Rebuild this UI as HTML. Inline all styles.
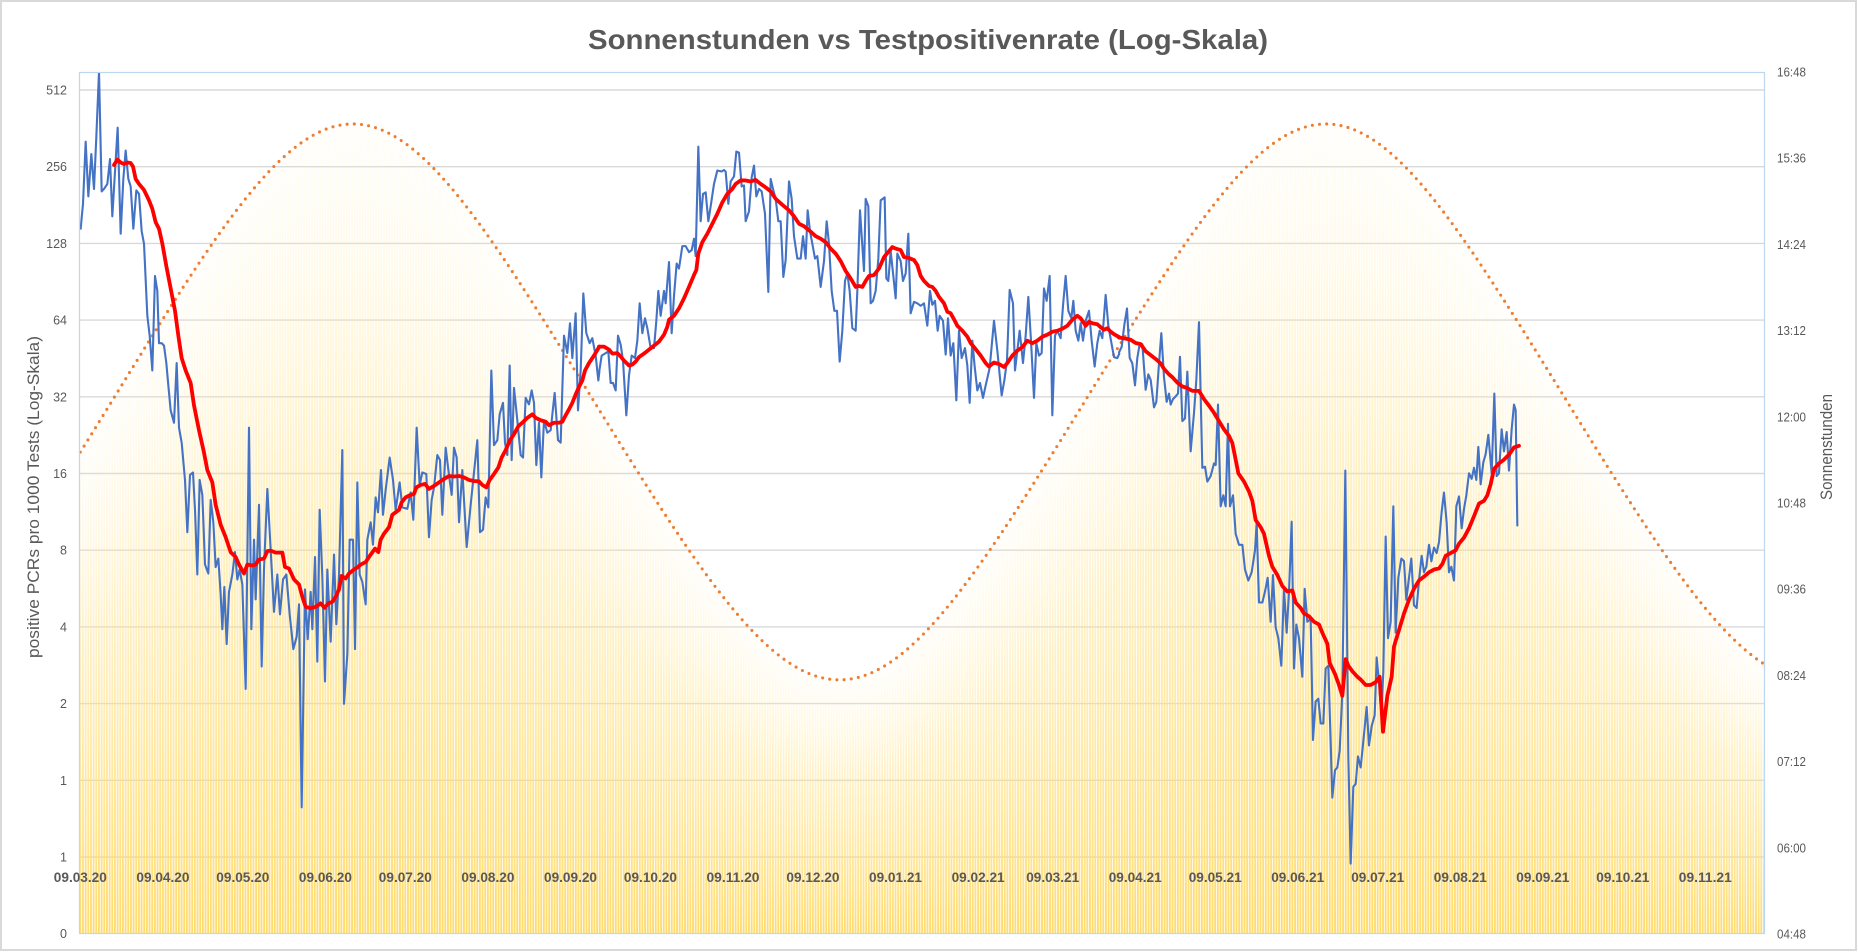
<!DOCTYPE html>
<html><head><meta charset="utf-8">
<style>
html,body{margin:0;padding:0;background:#fff;}
svg{display:block;}
text{font-family:"Liberation Sans",Arial,sans-serif;fill:#595959;}
</style></head><body>
<svg id="c" width="1858" height="952" viewBox="0 0 1858 952" xmlns="http://www.w3.org/2000/svg">
<defs>
<linearGradient id="bg" x1="0" y1="0" x2="0" y2="1">
<stop offset="0" stop-color="#FFF2CC" stop-opacity="0.12"/>
<stop offset="0.4" stop-color="#FFE699" stop-opacity="0.55"/>
<stop offset="1" stop-color="#FFD966" stop-opacity="0.95"/>
</linearGradient>
<clipPath id="pc"><rect x="79" y="72" width="1686" height="862"/></clipPath>
</defs>
<rect x="0" y="0" width="1858" height="952" fill="#fff"/>
<rect x="1" y="1" width="1855" height="949" fill="none" stroke="#D9D9D9" stroke-width="2"/>
<g stroke="#D9D9D9" stroke-width="1.4">
<line x1="79" x2="1765" y1="90" y2="90"/>
<line x1="79" x2="1765" y1="166.7" y2="166.7"/>
<line x1="79" x2="1765" y1="243.4" y2="243.4"/>
<line x1="79" x2="1765" y1="320.1" y2="320.1"/>
<line x1="79" x2="1765" y1="396.8" y2="396.8"/>
<line x1="79" x2="1765" y1="473.5" y2="473.5"/>
<line x1="79" x2="1765" y1="550.2" y2="550.2"/>
<line x1="79" x2="1765" y1="626.9" y2="626.9"/>
<line x1="79" x2="1765" y1="703.6" y2="703.6"/>
<line x1="79" x2="1765" y1="780.3" y2="780.3"/>
<line x1="79" x2="1765" y1="857" y2="857"/>
</g>
<g id="bars" clip-path="url(#pc)"></g>
<polyline id="sun" fill="none" stroke="#ED7D31" stroke-width="3.1" stroke-linecap="round" stroke-dasharray="0 7.2" points=""/>
<g clip-path="url(#pc)" fill="none" stroke-linejoin="round" stroke-linecap="round">
<g transform="translate(79,72) scale(0.33333,0.49751)">
<polyline vector-effect="non-scaling-stroke" stroke="#4472C4" stroke-width="2.1" points="5,315 12,265 20,140 28,250 37,165 45,235 52,130 60,0 68,240 75,235 85,225 93,175 100,290 108,200 116,112 125,325 133,215 140,158 148,215 155,230 163,315 172,238 180,245 188,320 195,345 205,490 212,530 220,600 228,410 235,440 240,545 248,545 255,550 262,585 268,630 275,680 285,705 293,585 300,715 308,745 318,820 325,925 333,810 342,805 348,880 355,1010 362,820 370,850 378,990 388,1008 395,860 403,905 410,995 418,978 425,1050 430,1120 436,1035 443,1150 450,1045 460,1010 468,965 475,1020 482,1000 490,1030 500,1240 510,715 517,1120 525,940 530,1060 540,870 548,1195 555,1000 565,838 575,960 585,1085 595,1010 603,1090 612,1020 622,1010 632,1090 643,1160 653,1135 660,1070 668,1478 678,1040 686,1140 695,1045 700,1120 708,975 715,1185 722,880 730,1015 738,1225 745,1000 755,1145 765,970 772,1110 780,1010 790,760 795,1270 805,1170 812,940 822,940 828,1160 835,825 842,1010 850,1025 860,1070 865,940 875,905 882,950 890,855 897,885 906,800 912,890 920,840 932,775 942,820 950,880 962,825 970,875 985,878 995,845 1003,900 1013,715 1022,830 1030,805 1042,808 1050,935 1058,860 1065,835 1075,770 1083,780 1090,890 1100,755 1110,810 1118,850 1125,755 1133,775 1140,905 1150,800 1163,955 1175,870 1185,805 1195,740 1203,925 1212,920 1220,855 1228,875 1237,600 1245,750 1255,740 1262,688 1272,665 1278,745 1285,770 1292,590 1298,780 1305,635 1315,700 1325,770 1332,775 1340,655 1350,668 1358,640 1365,665 1372,790 1380,705 1387,815 1395,700 1405,725 1415,720 1427,645 1437,740 1445,745 1455,530 1465,565 1473,505 1480,575 1490,485 1497,680 1505,600 1513,445 1522,525 1532,545 1540,535 1550,570 1558,620 1561,603"/>
<polyline vector-effect="non-scaling-stroke" stroke="#FF0000" stroke-width="3.8" points="105,187 115,176 125,182 135,185 145,182 155,183 162,190 170,215 180,225 195,237 210,258 220,275 230,302 240,315 250,345 262,390 275,435 288,480 298,530 308,575 320,600 335,625 345,670 360,720 375,765 385,800 400,825 410,870 425,910 440,935 455,965 470,975 480,990 495,1008 505,990 520,992 530,990 540,980 555,978 565,963 575,962 590,966 610,966 618,995 630,998 645,1020 660,1030 670,1055 680,1075 695,1078 710,1075 725,1068 737,1077 748,1068 760,1065 770,1055 780,1040 788,1013 800,1018 810,1008 825,1000 835,996 845,990 860,985 875,970 888,958 898,965 905,940 915,928 930,915 940,890 950,885 960,880 968,865 980,855 995,850 1005,848 1012,835 1025,830 1038,828 1050,838 1065,832 1080,825 1095,818 1110,812 1125,813 1140,812 1155,815 1170,820 1185,822 1200,823 1210,830 1222,835 1232,820 1245,808 1258,795 1268,775 1280,760 1293,740 1305,728 1318,712 1330,705 1345,695 1360,688 1370,695 1385,700 1400,703 1410,710 1425,705 1440,705 1450,703 1460,690 1470,678 1480,665 1490,648 1500,633 1510,620 1518,600 1530,585 1545,570 1561,552"/>
</g>
<g transform="translate(599,72) scale(0.33333,0.49751)">
<polyline vector-effect="non-scaling-stroke" stroke="#4472C4" stroke-width="2.1" points="0,605 8,570 20,565 28,562 35,625 42,625 50,640 57,530 65,548 72,580 82,690 90,610 98,570 108,575 115,540 122,465 130,525 138,495 145,515 155,555 165,555 172,500 178,440 185,490 195,440 200,465 210,382 218,525 225,450 233,385 240,395 250,350 260,350 270,362 278,358 285,335 290,370 298,150 305,300 312,245 320,242 328,300 335,270 345,225 355,198 368,200 375,197 380,200 388,265 395,220 405,210 412,160 420,162 428,230 435,228 440,300 450,280 458,212 465,188 472,250 480,235 488,240 498,285 508,442 515,215 522,235 530,255 538,300 545,300 553,412 560,378 570,220 578,255 585,330 595,375 605,375 612,330 620,375 626,278 633,320 640,345 648,375 655,370 665,432 675,380 683,300 690,345 698,440 706,480 714,480 722,582 730,520 738,420 745,405 752,440 760,515 770,520 775,440 783,278 790,350 795,400 800,255 808,270 815,465 822,460 830,440 838,375 845,258 857,252 862,415 868,420 875,360 883,410 890,455 895,365 905,380 912,420 920,405 928,325 935,485 945,462 955,465 965,470 975,465 985,510 993,440 1000,468 1008,460 1016,520 1022,490 1032,500 1040,568 1047,495 1055,570 1063,545 1072,660 1080,520 1088,575 1098,555 1105,590 1112,665 1120,540 1127,592 1135,640 1143,625 1152,655 1160,630 1172,595 1185,500 1195,560 1208,650 1216,620 1224,580 1232,438 1242,465 1248,600 1255,560 1262,520 1272,585 1280,530 1288,452 1296,540 1305,655 1312,545 1320,570 1328,565 1335,435 1343,460 1352,410 1360,690 1368,530 1375,520 1385,535 1392,470 1400,410 1408,480 1417,495 1423,460 1430,520 1438,540 1445,505 1452,540 1460,500 1470,480 1478,540 1487,592 1495,545 1502,520 1510,535 1520,448 1528,510 1536,540 1545,573 1555,575 1561,566"/>
<polyline vector-effect="non-scaling-stroke" stroke="#FF0000" stroke-width="3.8" points="0,552 15,552 30,558 40,566 55,565 65,572 75,580 90,590 100,588 110,582 120,573 135,566 150,558 165,550 180,542 195,528 205,512 210,498 225,490 240,475 255,455 270,432 285,408 292,398 298,365 310,342 325,325 340,305 355,285 370,262 385,245 400,235 410,225 425,218 440,218 455,220 470,217 485,225 500,232 515,240 530,255 550,267 570,278 585,290 600,305 615,310 630,318 650,330 665,335 680,342 695,355 710,365 725,380 740,400 755,415 770,432 780,430 790,432 800,420 810,410 825,408 840,395 855,372 870,360 880,352 890,355 905,358 915,372 930,374 945,378 955,388 965,410 975,420 990,430 1000,432 1010,440 1020,452 1035,465 1045,482 1055,485 1065,497 1075,510 1090,520 1105,532 1115,545 1130,557 1145,570 1160,585 1170,592 1185,584 1200,587 1215,593 1225,585 1240,570 1255,560 1270,553 1285,540 1300,545 1315,540 1330,532 1345,528 1360,522 1375,520 1390,516 1405,510 1420,498 1435,490 1445,495 1460,510 1470,502 1480,505 1495,507 1505,513 1515,518 1525,515 1535,522 1545,527 1561,533"/>
</g>
<g transform="translate(1119,72) scale(0.33333,0.54975)">
<polyline vector-effect="non-scaling-stroke" stroke="#4472C4" stroke-width="2.1" points="0,510 8,500 16,460 24,430 32,520 40,530 48,570 55,520 62,495 70,495 80,578 88,550 95,560 105,610 112,600 120,530 127,475 135,555 143,600 150,585 155,605 162,595 170,590 177,585 183,518 190,635 198,630 205,545 215,690 225,620 232,560 240,455 250,720 258,718 265,745 275,735 285,712 290,715 297,605 305,790 313,770 320,790 327,640 333,790 342,770 350,840 360,860 370,860 378,905 388,925 398,910 408,870 413,820 420,965 430,965 438,945 446,920 455,1000 462,915 470,1010 478,1030 487,1080 495,940 503,1020 510,945 518,818 525,1085 532,1005 540,1030 550,1100 557,940 565,1000 575,995 582,1215 590,1145 598,1140 605,1185 613,1185 620,1085 628,1080 633,1180 640,1320 648,1270 655,1265 662,1235 670,1130 679,725 688,1245 695,1440 703,1300 710,1295 717,1245 725,1265 735,1205 743,1155 750,1225 758,1190 767,1170 773,1065 780,1110 787,1170 793,1090 800,845 807,1030 815,1000 823,790 830,1020 838,920 847,885 855,890 862,960 870,920 877,885 885,970 893,975 900,925 908,880 915,910 922,900 930,860 937,890 945,865 953,875 960,855 968,800 975,765 983,820 990,910 997,900 1005,925 1012,790 1020,772 1028,830 1035,795 1042,770 1050,730 1058,740 1065,720 1072,742 1078,682 1085,750 1093,710 1100,695 1108,660 1118,730 1126,585 1133,735 1140,730 1148,650 1155,690 1163,655 1170,725 1178,650 1185,605 1190,615 1195,825"/>
<polyline vector-effect="non-scaling-stroke" stroke="#FF0000" stroke-width="3.8" points="0,483 20,485 35,487 50,493 65,495 80,508 95,515 110,522 125,530 135,540 150,550 160,555 175,565 190,572 205,575 220,580 230,580 240,580 255,595 270,607 285,620 300,635 315,650 330,662 340,675 350,705 358,730 375,745 390,763 400,780 410,815 425,828 435,840 450,880 460,900 475,915 490,935 505,945 520,943 530,965 545,975 555,985 570,990 585,1000 600,1005 610,1020 625,1040 632,1075 648,1095 660,1115 670,1135 680,1068 688,1080 700,1090 715,1100 725,1105 740,1115 755,1115 770,1110 782,1100 792,1200 805,1135 818,1100 825,1045 840,1015 855,985 870,960 885,940 900,925 915,918 930,910 945,905 960,903 970,895 980,880 995,875 1010,870 1020,858 1035,847 1050,830 1065,808 1080,785 1095,780 1105,770 1115,750 1125,722 1140,712 1155,705 1170,696 1185,683 1200,680"/>
</g>
</g>
<rect x="79.5" y="72.5" width="1685" height="861" fill="none" stroke="#BDD7EE" stroke-width="1.2"/>

<text x="928" y="49" font-size="28" font-weight="bold" text-anchor="middle" textLength="680" lengthAdjust="spacingAndGlyphs">Sonnenstunden vs Testpositivenrate (Log-Skala)</text>

<g font-size="12.5" text-anchor="end">
<text x="67" y="94.5">512</text>
<text x="67" y="171.2">256</text>
<text x="67" y="247.9">128</text>
<text x="67" y="324.6">64</text>
<text x="67" y="401.3">32</text>
<text x="67" y="478">16</text>
<text x="67" y="554.7">8</text>
<text x="67" y="631.4">4</text>
<text x="67" y="708.1">2</text>
<text x="67" y="784.8">1</text>
<text x="67" y="861.5">1</text>
<text x="67" y="938.2">0</text>
</g>

<g font-size="12.5">
<text x="1777" y="76.5" textLength="29" lengthAdjust="spacingAndGlyphs">16:48</text>
<text x="1777" y="162.7" textLength="29" lengthAdjust="spacingAndGlyphs">15:36</text>
<text x="1777" y="248.9" textLength="29" lengthAdjust="spacingAndGlyphs">14:24</text>
<text x="1777" y="335.1" textLength="29" lengthAdjust="spacingAndGlyphs">13:12</text>
<text x="1777" y="421.3" textLength="29" lengthAdjust="spacingAndGlyphs">12:00</text>
<text x="1777" y="507.5" textLength="29" lengthAdjust="spacingAndGlyphs">10:48</text>
<text x="1777" y="593.7" textLength="29" lengthAdjust="spacingAndGlyphs">09:36</text>
<text x="1777" y="679.9" textLength="29" lengthAdjust="spacingAndGlyphs">08:24</text>
<text x="1777" y="766.1" textLength="29" lengthAdjust="spacingAndGlyphs">07:12</text>
<text x="1777" y="852.3" textLength="29" lengthAdjust="spacingAndGlyphs">06:00</text>
<text x="1777" y="938.5" textLength="29" lengthAdjust="spacingAndGlyphs">04:48</text>
</g>

<g font-size="14" font-weight="bold" text-anchor="middle">
<text x="80.3" y="882" textLength="53" lengthAdjust="spacingAndGlyphs">09.03.20</text>
<text x="162.9" y="882" textLength="53" lengthAdjust="spacingAndGlyphs">09.04.20</text>
<text x="242.8" y="882" textLength="53" lengthAdjust="spacingAndGlyphs">09.05.20</text>
<text x="325.4" y="882" textLength="53" lengthAdjust="spacingAndGlyphs">09.06.20</text>
<text x="405.3" y="882" textLength="53" lengthAdjust="spacingAndGlyphs">09.07.20</text>
<text x="487.9" y="882" textLength="53" lengthAdjust="spacingAndGlyphs">09.08.20</text>
<text x="570.5" y="882" textLength="53" lengthAdjust="spacingAndGlyphs">09.09.20</text>
<text x="650.4" y="882" textLength="53" lengthAdjust="spacingAndGlyphs">09.10.20</text>
<text x="733" y="882" textLength="53" lengthAdjust="spacingAndGlyphs">09.11.20</text>
<text x="812.9" y="882" textLength="53" lengthAdjust="spacingAndGlyphs">09.12.20</text>
<text x="895.5" y="882" textLength="53" lengthAdjust="spacingAndGlyphs">09.01.21</text>
<text x="978.1" y="882" textLength="53" lengthAdjust="spacingAndGlyphs">09.02.21</text>
<text x="1052.7" y="882" textLength="53" lengthAdjust="spacingAndGlyphs">09.03.21</text>
<text x="1135.2" y="882" textLength="53" lengthAdjust="spacingAndGlyphs">09.04.21</text>
<text x="1215.2" y="882" textLength="53" lengthAdjust="spacingAndGlyphs">09.05.21</text>
<text x="1297.7" y="882" textLength="53" lengthAdjust="spacingAndGlyphs">09.06.21</text>
<text x="1377.7" y="882" textLength="53" lengthAdjust="spacingAndGlyphs">09.07.21</text>
<text x="1460.3" y="882" textLength="53" lengthAdjust="spacingAndGlyphs">09.08.21</text>
<text x="1542.8" y="882" textLength="53" lengthAdjust="spacingAndGlyphs">09.09.21</text>
<text x="1622.8" y="882" textLength="53" lengthAdjust="spacingAndGlyphs">09.10.21</text>
<text x="1705.3" y="882" textLength="53" lengthAdjust="spacingAndGlyphs">09.11.21</text>
</g>

<text transform="translate(39,497) rotate(-90)" font-size="17" text-anchor="middle" textLength="322" lengthAdjust="spacingAndGlyphs">positive PCRs pro 1000 Tests (Log-Skala)</text>
<text transform="translate(1832,447) rotate(-90)" font-size="17" text-anchor="middle" textLength="106" lengthAdjust="spacingAndGlyphs">Sonnenstunden</text>
</svg>
<script>
(function(){
var NS='http://www.w3.org/2000/svg';
function xd(d){return 80.3+2.664*d;}
function L(d){
  var dec=23.44*Math.PI/180*Math.sin(2*Math.PI*(d-11)/365.25);
  var phi=48.2*Math.PI/180;
  var c=(Math.sin(-0.833*Math.PI/180)-Math.sin(phi)*Math.sin(dec))/(Math.cos(phi)*Math.cos(dec));
  c=Math.max(-1,Math.min(1,c));
  return 24/Math.PI*Math.acos(c);
}
function yh(h){return 72+(16.8-h)*71.84;}
var bars=document.getElementById('bars');
for(var d=0;d<=632;d++){
  var x=xd(d), y=yh(L(d));
  var r=document.createElementNS(NS,'rect');
  r.setAttribute('x',(x-0.95).toFixed(2));
  r.setAttribute('y',y.toFixed(2));
  r.setAttribute('width','1.9');
  r.setAttribute('height',(934-y).toFixed(2));
  r.setAttribute('fill','url(#bg)');
  bars.appendChild(r);
}
var pts=[];
for(var t=0;t<=632.5;t+=0.5){pts.push(xd(t).toFixed(2)+','+yh(L(t)).toFixed(2));}
document.getElementById('sun').setAttribute('points',pts.join(' '));
})();
</script>
</body></html>
